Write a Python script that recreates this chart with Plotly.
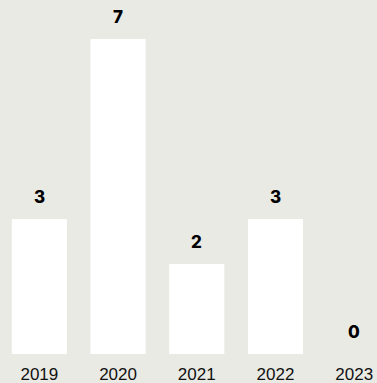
import plotly.graph_objects as go

# Yearly counts
years = ["2019", "2020", "2021", "2022", "2023"]
counts = [3, 7, 2, 3, 0]

bg = "#EAEAE4"

fig = go.Figure(
    go.Bar(
        x=years,
        y=counts,
        marker=dict(color="#FFFFFF", line=dict(width=0)),
        hoverinfo="skip",
    )
)

# Value labels above each bar
labels = [
    dict(
        x=i, y=val, xref="x", yref="y", text=str(val), showarrow=False,
        yanchor="bottom", yshift=10,
        font=dict(family="Inter", size=17, color="#000000", weight=800),
    )
    for i, val in enumerate(counts)
]

fig.update_layout(
    width=377, height=383,
    margin=dict(l=0, r=0, t=0, b=29),
    paper_bgcolor=bg, plot_bgcolor=bg,
    bargap=0.3,
    showlegend=False,
    annotations=labels,
    xaxis=dict(
        type="category",
        range=[-0.5, 4.29],
        showgrid=False, zeroline=False, showline=False, ticks="",
        tickfont=dict(family="Liberation Sans", size=17, color="#111111"),
        ticklabelstandoff=8,
        fixedrange=True,
    ),
    yaxis=dict(
        range=[0, 7.867],
        visible=False, showgrid=False, zeroline=False,
        fixedrange=True,
    ),
)

fig.write_html("out.html", config={"displayModeBar": False})
